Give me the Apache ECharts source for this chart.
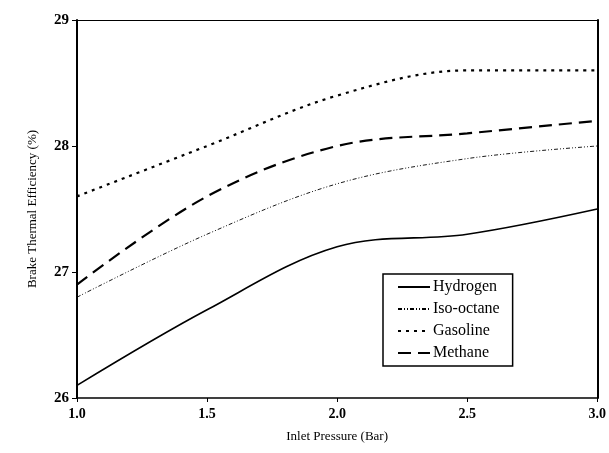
<!DOCTYPE html>
<html>
<head>
<meta charset="utf-8">
<script src="https://cdn.jsdelivr.net/npm/echarts@6/dist/echarts.min.js"></script>
<style>
  html, body { margin: 0; padding: 0; background: #fff; }
  #chart { width: 609px; height: 453px; }
</style>
</head>
<body>
<div id="chart"></div>
<script>
// Inlet pressure (bar) sample points
const pressure = [1.0, 1.5, 2.0, 2.5, 3.0];

// Brake thermal efficiency (%) per fuel
const hydrogen  = [26.1, 26.7, 27.2, 27.3, 27.5];
const isoOctane = [26.8, 27.3, 27.7, 27.9, 28.0];
const gasoline  = [27.6, 28.0, 28.4, 28.6, 28.6];
const methane   = [26.9, 27.6, 28.0, 28.1, 28.2];

const xTicks = { min: 1.0, max: 3.0, step: 0.5 };
const yTicks = { min: 26, max: 29, step: 1 };

const serif = '"Liberation Serif", "Times New Roman", serif';

function pairs(values) {
  return pressure.map((p, i) => [p, values[i]]);
}

function lineSeries(name, values, width, dash) {
  return {
    name: name,
    type: 'line',
    data: pairs(values),
    smooth: 0.35,
    symbol: 'none',
    lineStyle: { color: '#000', width: width, type: dash, cap: 'butt' },
    itemStyle: { color: '#000' },
    z: 3
  };
}

const chart = echarts.init(document.getElementById('chart'), null, { renderer: 'canvas' });

chart.setOption({
  animation: false,
  backgroundColor: '#fff',
  grid: { left: 77, right: 11, top: 20, bottom: 55, containLabel: false },
  legend: {
    orient: 'vertical',
    left: 383,
    top: 274,
    padding: [5, 13, 5, 14],
    itemGap: 6,
    itemWidth: 32,
    itemHeight: 14,
    borderColor: '#000',
    borderWidth: 1.5,
    backgroundColor: '#fff',
    itemStyle: { opacity: 0, borderWidth: 0 },
    textStyle: {
      fontFamily: serif, fontSize: 16, color: '#000',
      padding: [0, 0, 0, -2]
    },
    data: ['Hydrogen', 'Iso-octane', 'Gasoline', 'Methane']
  },
  xAxis: [{
    type: 'value',
    min: xTicks.min,
    max: xTicks.max,
    interval: xTicks.step,
    name: 'Inlet Pressure (Bar)',
    nameLocation: 'middle',
    nameGap: 32,
    nameTextStyle: { fontFamily: serif, fontSize: 13, color: '#000' },
    axisLine: { show: true, onZero: false, lineStyle: { color: '#000', width: 1.7 } },
    axisTick: { show: true, inside: false, length: 4, lineStyle: { color: '#000', width: 1 } },
    axisLabel: {
      fontFamily: serif, fontSize: 14, fontWeight: 'bold', color: '#000', margin: 9,
      formatter: v => v.toFixed(1)
    },
    splitLine: { show: false }
  }, {
    type: 'value',
    position: 'top',
    min: xTicks.min,
    max: xTicks.max,
    axisLine: { show: true, onZero: false, lineStyle: { color: '#000', width: 1.2 } },
    axisTick: { show: false },
    axisLabel: { show: false },
    splitLine: { show: false }
  }],
  yAxis: [{
    type: 'value',
    min: yTicks.min,
    max: yTicks.max,
    interval: yTicks.step,
    name: 'Brake Thermal Efficiency (%)',
    nameLocation: 'middle',
    nameRotate: 90,
    nameGap: 38,
    nameTextStyle: { fontFamily: serif, fontSize: 13, color: '#000' },
    axisLine: { show: true, onZero: false, lineStyle: { color: '#000', width: 2 } },
    axisTick: { show: true, inside: false, length: 5, lineStyle: { color: '#000', width: 1 } },
    axisLabel: { fontFamily: serif, fontSize: 15, fontWeight: 'bold', color: '#000', margin: 8 },
    splitLine: { show: false }
  }, {
    type: 'value',
    position: 'right',
    min: yTicks.min,
    max: yTicks.max,
    axisLine: { show: true, onZero: false, lineStyle: { color: '#000', width: 2 } },
    axisTick: { show: false },
    axisLabel: { show: false },
    splitLine: { show: false }
  }],
  series: [
    lineSeries('Hydrogen', hydrogen, 1.6, 'solid'),
    lineSeries('Iso-octane', isoOctane, 0.9, [4, 2, 1, 2, 1, 2]),
    lineSeries('Gasoline', gasoline, 2.2, [3, 5]),
    lineSeries('Methane', methane, 2.2, [13, 7])
  ]
});
</script>
</body>
</html>
